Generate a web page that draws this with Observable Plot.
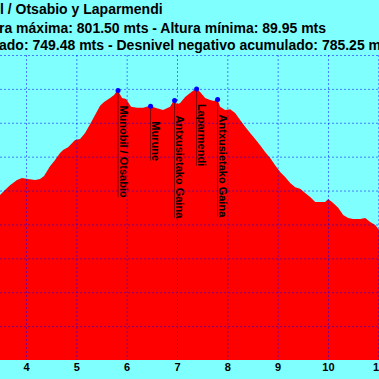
<!DOCTYPE html>
<html><head><meta charset="utf-8">
<script src="https://cdn.jsdelivr.net/npm/d3@7"></script>
<script src="https://cdn.jsdelivr.net/npm/@observablehq/plot@0.6"></script>
<style>
html,body{margin:0;padding:0;width:379px;height:379px;overflow:hidden;background:#80ffff;}
.t{position:absolute;left:-1px;white-space:nowrap;font:bold 14px "Liberation Sans",Arial,sans-serif;line-height:18px;color:#000;}
.t .cut{position:absolute;right:100%;top:0;}
#chart{position:absolute;left:0;top:50px;}
</style></head><body>
<div class="t" style="top:0;left:0"><span class="cut">Munobi</span>l / Otsabio y Laparmendi</div>
<div class="t" style="top:19px"><span class="cut">Altu</span>ra máxima: 801.50 mts - Altura mínima: 89.95 mts</div>
<div class="t" style="top:36px"><span class="cut">Desnivel positivo acumul</span>ado: 749.48 mts - Desnivel negativo acumulado: 785.25 mts</div>
<div id="chart"></div>
<script>
// distance (km) and altitude (m) of the profile
const km = [3.44,3.483,3.582,3.682,3.821,3.920,4.040,4.179,4.278,4.358,4.477,4.577,4.676,4.736,4.835,4.974,5.074,5.173,5.272,5.372,5.471,5.551,5.670,5.750,5.819,5.908,5.988,6.087,6.207,6.326,6.465,6.565,6.724,6.863,6.942,7.002,7.062,7.161,7.260,7.380,7.459,7.559,7.658,7.737,7.797,7.857,7.956,8.056,8.155,8.254,8.354,8.453,8.553,8.652,8.751,8.851,8.950,9.050,9.149,9.249,9.348,9.447,9.547,9.646,9.746,9.845,9.944,10.004,10.103,10.203,10.302,10.402,10.501,10.640,10.740,10.839,10.938,11.018,11.10];
const elev = [481,487,502,516,531,537,534,531,534,543,572,590,611,620,628,649,652,670,696,723,750,761,773,782,797,773,770,747,744,744,750,744,738,747,767,755,758,776,788,801.5,791,773,767,764,770,747,738,740,729,708,688,670,652,634,614,596,575,555,540,522,510,505,493,481,466,466,466,475,463,449,428,419,416,416,419,407,398,384,375];

const peakNames = ["Munobil / Otsabio","Murune","Antxusietako Gaina","Laparmendi","Antxusietako Gaina"];
const peakKm = [5.819,6.465,6.942,7.380,7.797];
const peakElev = [797,750,767,801.5,770];

const xTicks = [4,5,6,7,8,9,10,11];
const yGrid = [100,200,300,400,500,600,700,800,900];
const xDomain = [3.483, 11.014];
const yDomain = [0, 900];

const W = 379, H = 329, MT = 5, MB = 19;
const profile = km.map((k,i)=>({km:k, elev:elev[i]}));
const peaks = peakNames.map((n,i)=>({name:n, km:peakKm[i], elev:peakElev[i]}));
const ctx = document.createElement("canvas").getContext("2d");
ctx.font = 'bold 11px "Liberation Sans", Arial, sans-serif';
const pxPerM = (H - MT - MB) / (yDomain[1] - yDomain[0]);
peaks.forEach(p => { p.lineEnd = p.elev - (15 + ctx.measureText(p.name).width) / pxPerM; });

const grid = {stroke:"#0000ff", strokeOpacity:0.5, strokeDasharray:"2,2"};
const chart = Plot.plot({
  width: W, height: H,
  marginLeft: 0, marginRight: 0, marginTop: MT, marginBottom: MB,
  style: {background:"transparent", fontFamily:'"Liberation Sans", Arial, sans-serif', fontSize:"11px", fontWeight:"bold", color:"#000", overflow:"visible"},
  x: {domain: xDomain, ticks: xTicks, tickSize: 0, tickPadding: 3, tickFormat: d => String(d), label: null},
  y: {domain: yDomain, axis: null},
  marks: [
    Plot.areaY(profile, {x:"km", y:"elev", fill:"#ff0000", clip:true}),
    Plot.ruleY(yGrid, grid),
    Plot.ruleX(xTicks, grid),
    Plot.ruleX(peaks, {x:"km", y1:"elev", y2:"lineEnd", stroke:"#800000"}),
    Plot.dot(peaks, {x:"km", y:"elev", r:2.5, fill:"#0000ff"}),
    Plot.text(peaks, {x:"km", y:"elev", text:"name", rotate:90, textAnchor:"start", lineAnchor:"middle", dx:5, dy:15, fill:"#000"})
  ]
});
document.getElementById("chart").appendChild(chart);
</script>
</body></html>
